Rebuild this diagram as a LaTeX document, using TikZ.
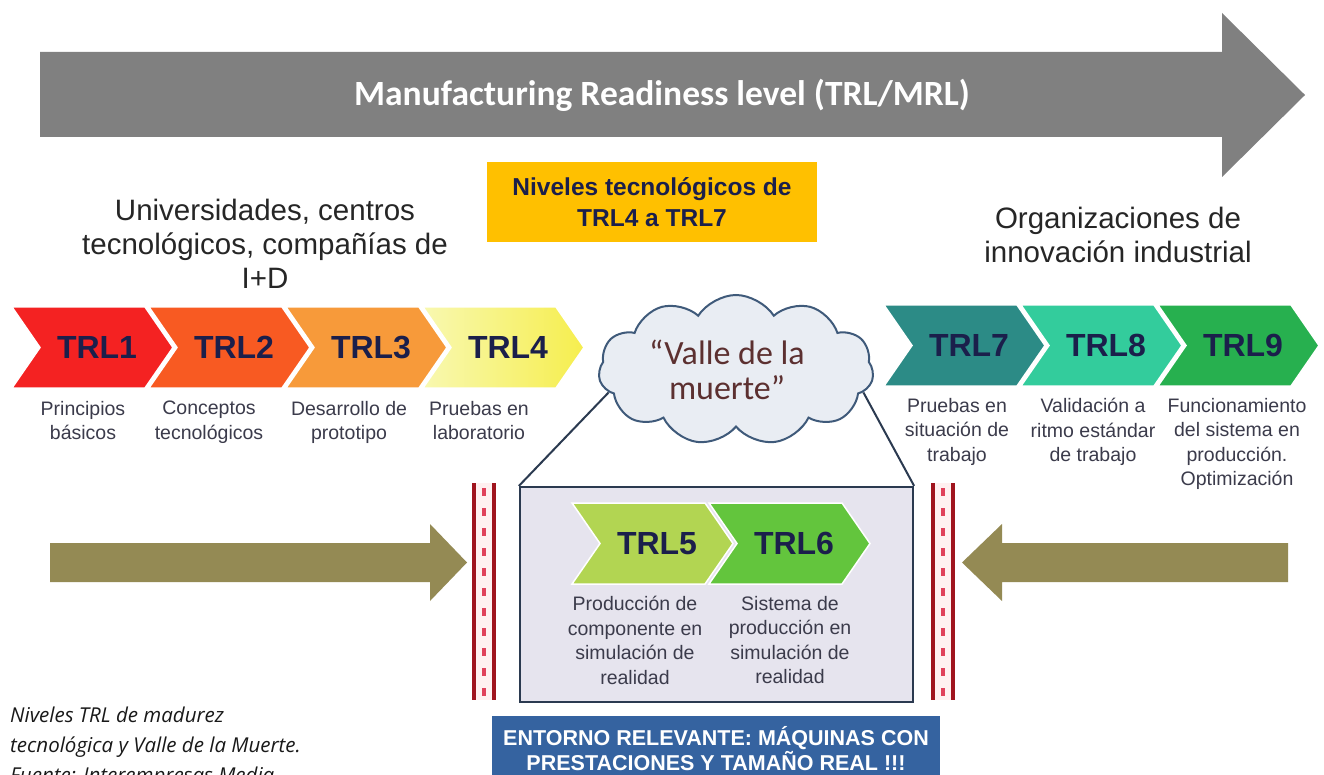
\documentclass[tikz,border=0pt]{standalone}
\usepackage{fontspec}
\setmainfont{Liberation Sans}
\newfontfamily\calibrifont{Carlito}
\newfontfamily\capfont{Open Sans}
\usetikzlibrary{shapes.symbols}
\definecolor{grayarrow}{HTML}{808080}
\definecolor{ybox}{HTML}{FFC000}
\definecolor{navy}{HTML}{1B1F4B}
\definecolor{headcol}{HTML}{262626}
\definecolor{desccol}{HTML}{3B3B4B}
\definecolor{cA}{HTML}{F42222}
\definecolor{cB}{HTML}{F85A22}
\definecolor{cC}{HTML}{F79A3A}
\definecolor{cDa}{HTML}{F8F8B0}
\definecolor{cDb}{HTML}{F6EE4E}
\definecolor{cE}{HTML}{B2D552}
\definecolor{cF}{HTML}{63C53D}
\definecolor{cG}{HTML}{2C8B86}
\definecolor{cH}{HTML}{33CC9C}
\definecolor{cI}{HTML}{27B04F}
\definecolor{cloudfill}{HTML}{E9EDF3}
\definecolor{clouddraw}{HTML}{3F5A7A}
\definecolor{cloudtext}{HTML}{5C3030}
\definecolor{lensfill}{HTML}{E6E4EE}
\definecolor{lensdraw}{HTML}{2B3A50}
\definecolor{bannercol}{HTML}{3563A0}
\definecolor{olive}{HTML}{948A54}
\definecolor{bardark}{HTML}{A0141E}
\definecolor{barpink}{HTML}{E0405A}
\newcommand\chev[5]{%
  \path[#4, draw=white, line width=1.5pt] (#2,#3) -- ++(133,0) -- ++(28,40.5) -- ++(-28,40.5) -- ++(-133,0) -- ++(28,-40.5) -- cycle;
  \node[trl] (#1) at (#2+85,#3+40.5) {#5};}
\newcommand\barrier[1]{%
  \fill[red!6] (#1,483) rectangle (#1+20,700);
  \draw[bardark, line width=4.5pt] (#1,483) -- (#1,700);
  \draw[bardark, line width=4.5pt] (#1+20,483) -- (#1+20,700);
  \draw[barpink, line width=4pt, dash pattern=on 8pt off 12pt] (#1+10,488) -- (#1+10,700);}
\begin{document}
\begin{tikzpicture}[x=1pt,y=-1pt,
  trl/.style={font=\fontsize{32}{32}\selectfont\bfseries, text=navy, inner sep=0},
  desc/.style={font=\fontsize{19.5}{24.5}\selectfont, text=desccol, align=center, inner sep=0, anchor=north},
  heading/.style={font=\fontsize{29.5}{34}\selectfont, text=headcol, align=center, inner sep=0, anchor=north}]
\useasboundingbox (0,0) rectangle (1324,775);
\clip (0,0) rectangle (1324,775);
\fill[white] (0,0) rectangle (1324,775);

% top grey arrow
\fill[grayarrow] (40,52) -- (1222,52) -- (1222,13) -- (1305,95) -- (1222,177) -- (1222,137) -- (40,137) -- cycle;
\node[font=\calibrifont\fontsize{35.5}{36}\selectfont\bfseries, text=white, inner sep=0] (mrl) at (662,95) {Manufacturing Readiness level (TRL/MRL)};

% headings
\node[heading] (univ) at (265,199) {Universidades, centros\\tecnológicos, compañías de\\I+D};
\node[heading] (org) at (1118,207) {Organizaciones de\\innovación industrial};
\node[fill=ybox, minimum width=330, minimum height=80, inner sep=0, align=center,
      font=\fontsize{24.5}{31}\selectfont\bfseries, text=navy] (ybox) at (652,202)
      {Niveles tecnológicos de\\TRL4 a TRL7};

% left chevrons
\chev{t1}{12}{307}{fill=cA}{TRL1}
\chev{t2}{149}{307}{fill=cB}{TRL2}
\chev{t3}{286}{307}{fill=cC}{TRL3}
\chev{t4}{423}{307}{left color=cDa, right color=cDb}{TRL4}
\node[desc] (d1) at (83,401) {Principios\\básicos};
\node[desc] (d2) at (209,401) {Conceptos\\tecnológicos};
\node[desc] (d3) at (349,401) {Desarrollo de\\prototipo};
\node[desc] (d4) at (479,401) {Pruebas en\\laboratorio};

% right chevrons
\chev{t7}{884}{305}{fill=cG}{TRL7}
\chev{t8}{1021}{305}{fill=cH}{TRL8}
\chev{t9}{1158}{305}{fill=cI}{TRL9}
\node[desc] (d7) at (957,398) {Pruebas en\\situación de\\trabajo};
\node[desc] (d8) at (1093,398) {Validación a\\ritmo estándar\\de trabajo};
\node[desc] (d9) at (1237,398) {Funcionamiento\\del sistema en\\producción.\\Optimización};

% lens box
\node[draw=lensdraw, line width=2.2pt, fill=lensfill, minimum width=393, minimum height=215, inner sep=0] (lens) at (716.5,594.5) {};
\chev{t5}{572}{503}{fill=cE}{TRL5}
\chev{t6}{709}{503}{fill=cF}{TRL6}
\node[desc] (d5) at (635,596) {Producción de\\componente en\\simulación de\\realidad};
\node[desc] (d6) at (790,596) {Sistema de\\producción en\\simulación de\\realidad};

% cloud
\node[cloud, cloud puffs=11, cloud puff arc=115, cloud ignores aspect, minimum width=275, minimum height=150,
      inner sep=0, draw=clouddraw, line width=2pt, fill=cloudfill] (cloud) at (736,370) {};
\node[font=\calibrifont\fontsize{34}{35}\selectfont, text=cloudtext, align=center, inner sep=0] (vtext) at (727,370) {“Valle de la\\muerte”};
\draw[lensdraw, line width=2pt] (cloud.190) -- (lens.north west);
\draw[lensdraw, line width=2pt] (cloud.-10) -- (lens.north east);

% banner
\node[fill=bannercol, minimum width=448, minimum height=66, inner sep=0, align=center,
      font=\fontsize{21.5}{25}\selectfont\bfseries, text=white] (banner) at (716,749)
      {ENTORNO RELEVANTE: MÁQUINAS CON\\PRESTACIONES Y TAMAÑO REAL !!!};

% barriers
\barrier{474}
\barrier{933}

% olive arrows
\fill[olive] (50,543) -- (430,543) -- (430,524) -- (467,562.5) -- (430,601) -- (430,582) -- (50,582) -- cycle;
\fill[olive] (1288,543) -- (1002,543) -- (1002,524) -- (962,562.5) -- (1002,601) -- (1002,582) -- (1288,582) -- cycle;

% caption
\node[anchor=north west, inner sep=0, align=left, font=\capfont\itshape\fontsize{20.5}{30}\selectfont, text=black!90] (cap) at (10,707)
  {Niveles TRL de madurez\\tecnológica y Valle de la Muerte.\\Fuente: Interempresas Media};
\end{tikzpicture}
\end{document}
